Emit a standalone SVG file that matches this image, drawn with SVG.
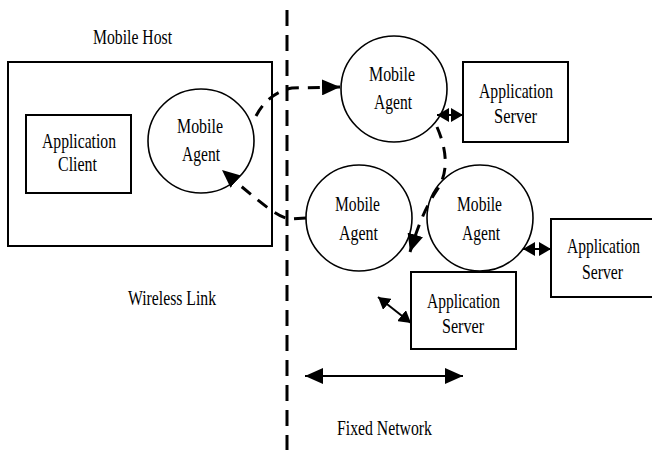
<svg xmlns="http://www.w3.org/2000/svg" width="652" height="450" viewBox="0 0 652 450">
<style>
  text { font-family: "Liberation Serif", "Times New Roman", serif; font-size: 21px; fill: #000; text-anchor: middle; }
  .box { fill: #fff; stroke: #000; stroke-width: 2; }
  .frame { fill: none; stroke: #000; stroke-width: 2; }
  .agent { fill: #fff; stroke: #000; stroke-width: 1.6; }
  .dash { fill: none; stroke: #000; stroke-width: 3; stroke-dasharray: 12 9; }
  .solid { fill: none; stroke: #000; stroke-width: 2; }
  .divider { fill: none; stroke: #000; stroke-width: 3; stroke-dasharray: 16 9; }
</style>
<defs>
  <marker id="big" markerUnits="userSpaceOnUse" markerWidth="20" markerHeight="16" refX="18" refY="8" orient="auto-start-reverse">
    <path d="M0,0 L18,8 L0,16 z" fill="#000"/>
  </marker>
  <marker id="small" markerUnits="userSpaceOnUse" markerWidth="14" markerHeight="14" refX="12" refY="7" orient="auto-start-reverse">
    <path d="M0,0 L12,7 L0,14 z" fill="#000"/>
  </marker>
</defs>
<rect width="652" height="450" fill="#fff"/>

<line class="divider" x1="287" y1="10" x2="287" y2="450"/>

<g id="mobile-host">
  <rect class="frame" x="8" y="62" width="264" height="184"/>
  <text x="132.5" y="44" textLength="79" lengthAdjust="spacingAndGlyphs">Mobile Host</text>
</g>
<g id="app-client">
  <rect class="box" x="26" y="115" width="105" height="78"/>
  <text x="79" y="148" textLength="74" lengthAdjust="spacingAndGlyphs">Application</text>
  <text x="77.5" y="171" textLength="39" lengthAdjust="spacingAndGlyphs">Client</text>
</g>
<g id="agent-host">
  <ellipse class="agent" cx="201" cy="141" rx="53" ry="52"/>
  <text x="200" y="133" textLength="46" lengthAdjust="spacingAndGlyphs">Mobile</text>
  <text x="201" y="161" textLength="38" lengthAdjust="spacingAndGlyphs">Agent</text>
</g>
<g id="agent-top">
  <circle class="agent" cx="394" cy="89" r="53"/>
  <text x="392" y="81" textLength="46" lengthAdjust="spacingAndGlyphs">Mobile</text>
  <text x="393" y="109" textLength="38" lengthAdjust="spacingAndGlyphs">Agent</text>
</g>
<g id="server-top">
  <rect class="box" x="463" y="62" width="105" height="80"/>
  <text x="516" y="98" textLength="74" lengthAdjust="spacingAndGlyphs">Application</text>
  <text x="515.5" y="123" textLength="43" lengthAdjust="spacingAndGlyphs">Server</text>
</g>
<g id="agent-mid-left">
  <circle class="agent" cx="359" cy="218" r="53"/>
  <text x="357.5" y="211" textLength="45" lengthAdjust="spacingAndGlyphs">Mobile</text>
  <text x="358.5" y="240" textLength="39" lengthAdjust="spacingAndGlyphs">Agent</text>
</g>
<g id="agent-mid-right">
  <circle class="agent" cx="480" cy="218" r="53"/>
  <text x="479.5" y="211" textLength="45" lengthAdjust="spacingAndGlyphs">Mobile</text>
  <text x="481" y="240" textLength="38" lengthAdjust="spacingAndGlyphs">Agent</text>
</g>
<g id="server-right">
  <rect class="box" x="551" y="219" width="110" height="78"/>
  <text x="603.5" y="253" textLength="73" lengthAdjust="spacingAndGlyphs">Application</text>
  <text x="602.5" y="279" textLength="41" lengthAdjust="spacingAndGlyphs">Server</text>
</g>
<g id="server-bottom">
  <rect class="box" x="411" y="272" width="105" height="77"/>
  <text x="463.5" y="308" textLength="73" lengthAdjust="spacingAndGlyphs">Application</text>
  <text x="463" y="333" textLength="42" lengthAdjust="spacingAndGlyphs">Server</text>
</g>
<g id="labels">
  <text x="172" y="305" textLength="88" lengthAdjust="spacingAndGlyphs">Wireless Link</text>
  <text x="384.5" y="435" textLength="95" lengthAdjust="spacingAndGlyphs">Fixed Network</text>
</g>

<g id="connectors">
  <path class="dash" d="M 256 116 Q 268 93 292 88 L 340 87" marker-end="url(#big)"/>
  <path class="dash" d="M 306 218 L 289 219 C 276 216 262 204 222 170" marker-end="url(#big)"/>
  <path class="dash" d="M 437 127 C 447 150 449 172 437 190 S 418 226 410 252" marker-end="url(#big)"/>
  <line class="solid" x1="437" y1="115" x2="463" y2="115" marker-start="url(#small)" marker-end="url(#small)"/>
  <line class="solid" x1="523" y1="249" x2="551" y2="249" marker-start="url(#small)" marker-end="url(#small)"/>
  <line class="solid" x1="378" y1="297" x2="411" y2="323" marker-start="url(#small)" marker-end="url(#small)"/>
  <line class="solid" x1="305" y1="376" x2="463" y2="376" marker-start="url(#big)" marker-end="url(#big)"/>
</g>
</svg>
